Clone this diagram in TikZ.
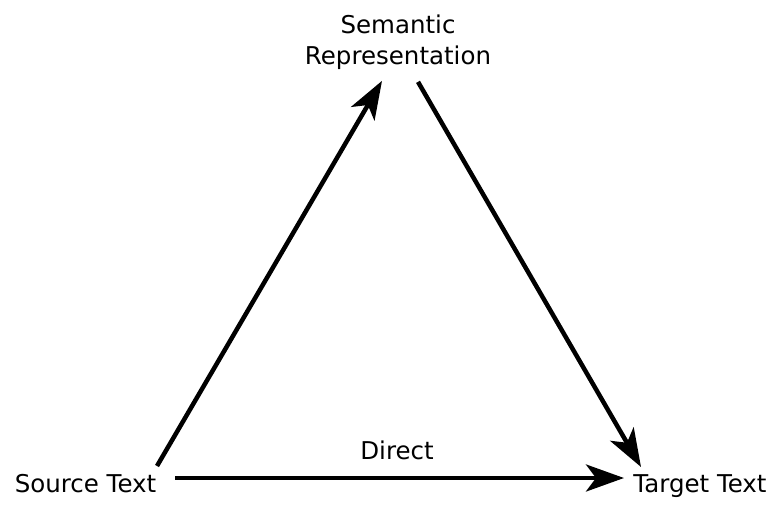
\documentclass[tikz,border=0pt]{standalone}
\usepackage{fontspec}
\setmainfont{DejaVu Sans}
\usetikzlibrary{arrows.meta}

\tikzset{
    label/.style={font=\fontsize{24.5}{31}\selectfont, inner sep=0pt},
    arr/.style={line width=4.5pt, -{Stealth[length=38pt, width=27pt, inset=10pt]}}
}

\begin{document}
\begin{tikzpicture}[x=1pt, y=1pt]
    \useasboundingbox (0,0) rectangle (776,504);

    % Nodes
    \node[label, anchor=base] (src) at (85.5,12) {Source Text};
    \node[label, anchor=base] (tgt) at (700,12) {Target Text};
    \node[label, align=center] (sem) at (398,461.7) {Semantic\\Representation};
    \node[label, anchor=base] (direct) at (397,45) {Direct};

    % Arrows
    \draw[arr] ([shift={(71.5,26)}]src.base) -- ([shift={(-16,-11)}]sem.south);
    \draw[arr] ([shift={(20,-12)}]sem.south) -- ([shift={(-59,25)}]tgt.base);
    \draw[arr] ([shift={(89.5,14)}]src.base) -- ([shift={(-76,14)}]tgt.base);
\end{tikzpicture}
\end{document}
